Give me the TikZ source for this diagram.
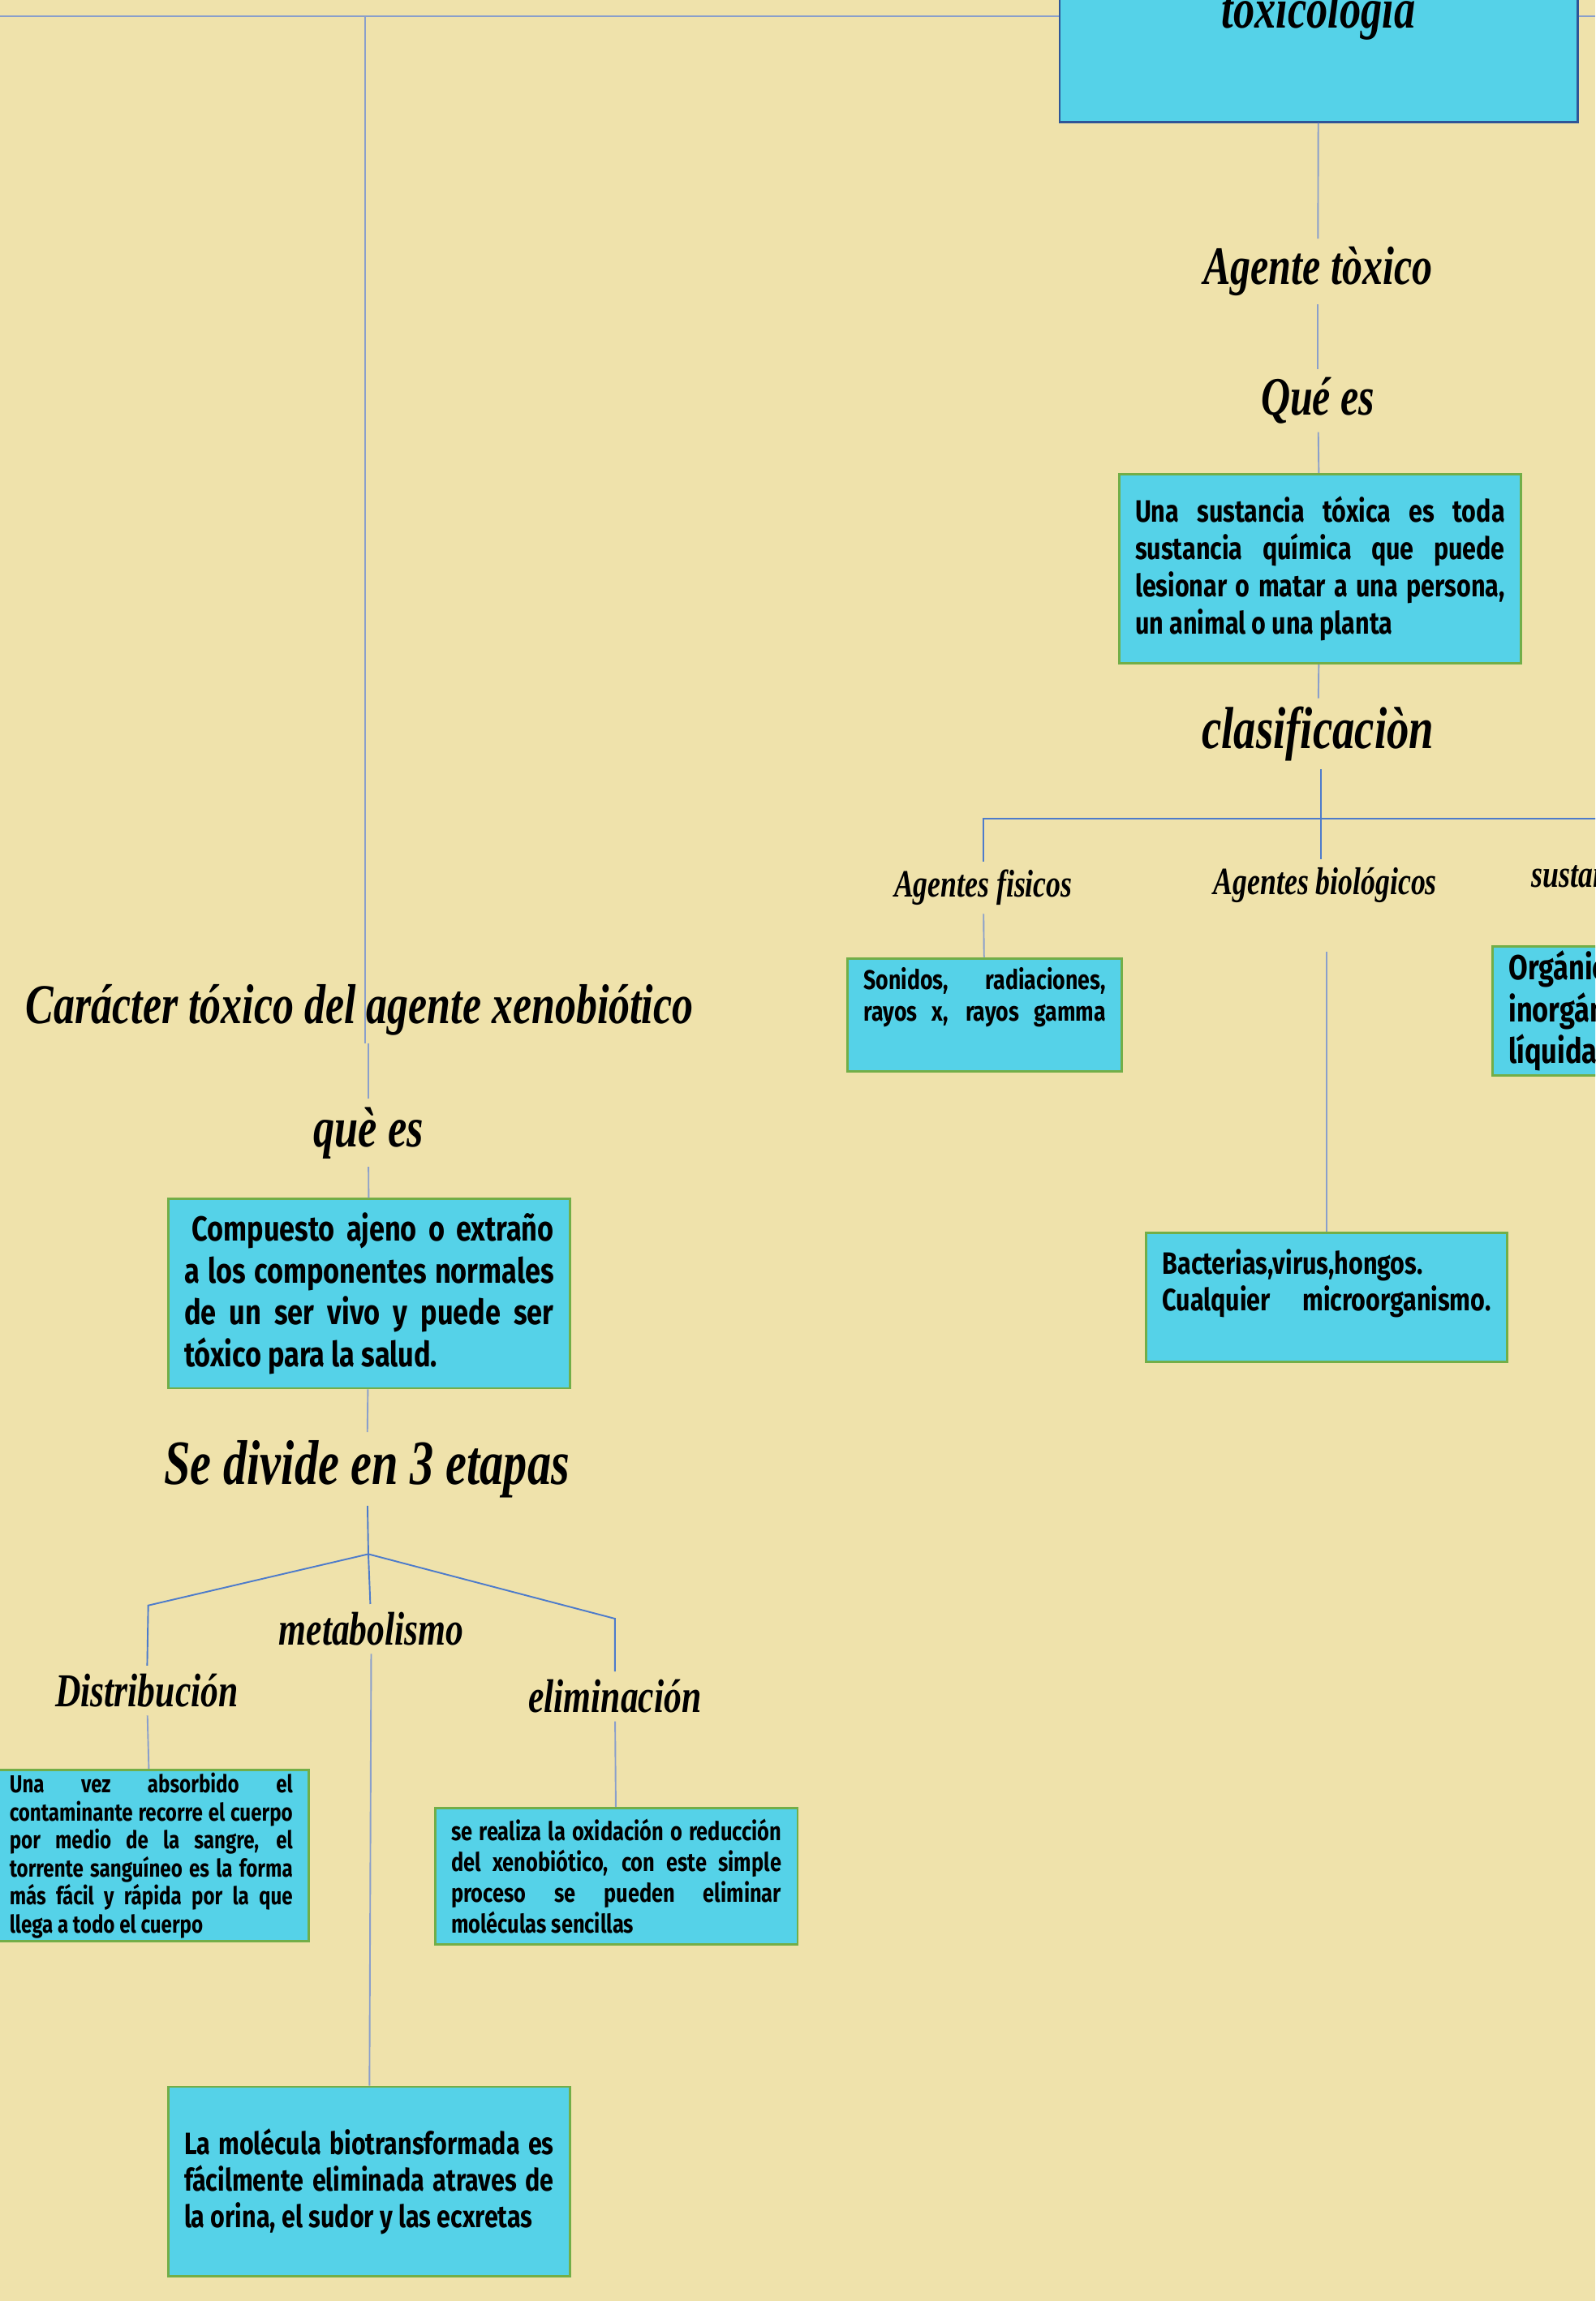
\documentclass[tikz,border=0pt]{standalone}
\usepackage{fontspec}
\setmainfont{Fira Sans}
\newfontfamily\bodyfont[FakeStretch=0.8]{Fira Sans}
\newfontfamily\handfont[FakeStretch=0.75]{Liberation Serif}
\definecolor{paper}{HTML}{EFE2AB}
\definecolor{panelcyan}{HTML}{55D2E8}
\definecolor{panelgreen}{HTML}{72AE48}
\definecolor{panelnavy}{HTML}{2F5597}
\definecolor{linkgray}{HTML}{8A9FCB}
\definecolor{linkblue}{HTML}{4D7BCB}

\begin{document}
\begin{tikzpicture}[x=0.02cm, y=-0.02cm,
	heading/.style={font=\handfont\bfseries\itshape\fontsize{21}{25}\selectfont, inner sep=3pt},
	small heading/.style={heading, font=\handfont\bfseries\itshape\fontsize{15}{18}\selectfont},
	mid heading/.style={heading, font=\handfont\bfseries\itshape\fontsize{18.3}{22}\selectfont},
	panel/.style={draw=panelgreen, fill=panelcyan, line width=0.9pt, inner xsep=0.22cm, inner ysep=0pt, font=\bodyfont\bfseries},
	link/.style={draw=linkgray, line width=0.6pt},
	branch/.style={draw=linkblue, line width=0.6pt}]
  \useasboundingbox (0,0) rectangle (1087,1568);
  \fill[paper] (0,0) rectangle (1087,1568);
  \clip (0,0) rectangle (1087,1568);

  % right column
  \node[panel, draw=panelnavy, minimum width=7.06cm, minimum height=2.92cm] (toxbox) at (898.5,10)
    {\handfont\bfseries\itshape\fontsize{22}{26}\selectfont toxicología};
  \node[heading] (agente) at (898,185) {Agente tòxico};
  \node[heading] (quees) at (898,273) {Qué es};
  \node[panel, minimum width=5.46cm, minimum height=2.58cm] (defagente) at (899.5,387.5)
    {\parbox{5.04cm}{\fontsize{12}{14.4}\selectfont Una sustancia tóxica es toda\linebreak sustancia química que puede\linebreak lesionar o matar a una persona,\linebreak un animal o una planta}};
  \node[heading, font=\handfont\bfseries\itshape\fontsize{23}{27}\selectfont] (clasif) at (898,500) {clasificaciòn};
  \node[small heading] (fisicos) at (670,605) {Agentes fisicos};
  \node[small heading] (biolog) at (903,603) {Agentes biológicos};
  \node[small heading, anchor=west] (sustancias) at (1038,598) {sustancias químicas};
  \node[panel, minimum width=3.72cm, minimum height=1.54cm] (sonidos) at (671,691.5)
    {\parbox[c][1.30cm][t]{3.3cm}{\fontsize{10.5}{12.5}\selectfont\parfillskip=0pt Sonidos, radiaciones,\linebreak rayos x, rayos gamma}};
  \node[panel, minimum width=4.88cm, minimum height=1.76cm] (bacterias) at (904,884)
    {\parbox[c][1.32cm][t]{4.48cm}{\fontsize{12}{14.2}\selectfont\parfillskip=0pt Bacterias,virus,hongos.\\ Cualquier microorganismo.}};
  \node[panel, minimum width=4cm, minimum height=1.76cm] (organic) at (1117,689)
    {\parbox{3.56cm}{\fontsize{13.5}{16.2}\selectfont Orgánicas e\\ inorgánicas,\\ líquidas}};

  % left column
  \node[heading, font=\handfont\bfseries\itshape\fontsize{21.8}{26}\selectfont] (caracter) at (245,688) {Carácter tóxico del agente xenobiótico};
  \node[heading, font=\handfont\bfseries\itshape\fontsize{22}{26}\selectfont] (quees2) at (251,772) {què es};
  \node[panel, minimum width=5.46cm, minimum height=2.58cm] (compuesto) at (251.5,881.5)
    {\parbox{5.04cm}{\fontsize{13.5}{16.3}\selectfont\hspace*{3pt}Compuesto ajeno o extraño\linebreak a los componentes normales\linebreak de un ser vivo y puede ser\linebreak tóxico para la salud.}};
  \node[heading, font=\handfont\bfseries\itshape\fontsize{24.5}{29}\selectfont] (etapas) at (250,1001) {Se divide en 3 etapas};
  \node[mid heading] (metab) at (253,1110) {metabolismo};
  \node[mid heading] (distrib) at (100,1152) {Distribución};
  \node[mid heading] (elimin) at (419,1156) {eliminación};
  \node[panel, minimum width=4.2cm, minimum height=2.34cm] (distbox) at (103,1264.5)
    {\parbox{3.86cm}{\fontsize{9.5}{10.9}\selectfont Una vez absorbido el\linebreak contaminante recorre el cuerpo\linebreak por medio de la sangre, el\linebreak torrente sanguíneo es la forma\linebreak más fácil y rápida por la que\linebreak llega a todo el cuerpo}};
  \node[panel, minimum width=4.92cm, minimum height=1.86cm] (elimbox) at (420,1278.5)
    {\parbox{4.5cm}{\fontsize{10}{12}\selectfont se realiza la oxidación o reducción\linebreak del xenobiótico, con este simple\linebreak proceso se pueden eliminar\linebreak moléculas sencillas}};
  \node[panel, minimum width=5.46cm, minimum height=2.58cm] (metabbox) at (251.5,1486.5)
    {\parbox{5.04cm}{\fontsize{12}{14.2}\selectfont La molécula biotransformada es\linebreak fácilmente eliminada atraves de\linebreak la orina, el sudor y las ecxretas}};

  \coordinate (topleft) at (0,11);
  \coordinate (topright) at (1087,11);
  \coordinate (toptee) at (249,11);
  \coordinate (clasbar) at (900,558);
  \coordinate (split) at (251,1059);
  \coordinate (distknee) at (101,1094);
  \coordinate (elimknee) at (419,1103);

  % connectors
  \draw[link] (topleft) -- (toxbox.west |- topleft);
  \draw[link] (toxbox.east |- topright) -- (topright);
  \draw[link] (toptee) -- (toptee |- caracter.south);
  \draw[link] (quees2 |- caracter.south) -- (quees2);
  \draw[link] (quees2) -- (compuesto);
  \draw[link] (compuesto) -- (etapas);
  \draw[branch] (etapas) -- (split) -- (distknee) -- (distrib);
  \draw[branch] (split) -- (metab);
  \draw[branch] (split) -- (elimknee) -- (elimin);
  \draw[link] (distrib) -- (distbox);
  \draw[link] (elimin) -- (elimbox);
  \draw[link] (metab) -- (metabbox);

  \draw[link] (toxbox) -- (agente);
  \draw[link] (agente) -- (quees);
  \draw[link] (quees) -- (defagente);
  \draw[link] (defagente) -- (clasif);
  \draw[branch] (clasif.south -| clasbar) -- (biolog.north -| clasbar);
  \draw[branch] (fisicos) |- (clasbar) -| (sustancias);
  \draw[link] (fisicos) -- (sonidos);
  \draw[link, shorten <=0.56cm] (biolog.south -| bacterias) -- (bacterias);
\end{tikzpicture}
\end{document}
